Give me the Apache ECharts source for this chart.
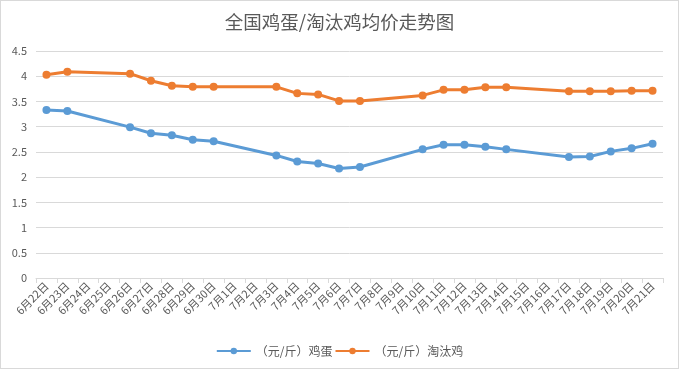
<!DOCTYPE html>
<html><head><meta charset="utf-8">
<script src="https://cdn.jsdelivr.net/npm/echarts@6/dist/echarts.min.js"></script>
<style>html,body{margin:0;padding:0;background:#fff}#c{width:677px;height:367px;border:1px solid #d9d9d9}</style>
</head><body><div id="c"></div>
<script>
var categories = ['6月22日','6月23日','6月24日','6月25日','6月26日','6月27日','6月28日','6月29日','6月30日','7月1日','7月2日','7月3日','7月4日','7月5日','7月6日','7月7日','7月8日','7月9日','7月10日','7月11日','7月12日','7月13日','7月14日','7月15日','7月16日','7月17日','7月18日','7月19日','7月20日','7月21日'];
var eggPrice = [3.33,3.31,null,null,2.99,2.87,2.83,2.74,2.71,null,null,2.43,2.31,2.27,2.17,2.2,null,null,2.55,2.64,2.64,2.6,2.55,null,null,2.4,2.41,2.51,2.57,2.66];
var henPrice = [4.03,4.09,null,null,4.05,3.91,3.81,3.79,3.79,null,null,3.79,3.66,3.64,3.51,3.51,null,null,3.62,3.73,3.73,3.78,3.78,null,null,3.7,3.7,3.7,3.71,3.71];
var seriesNames = ['（元/斤）鸡蛋','（元/斤）淘汰鸡'];
var font = '"Noto Sans CJK SC", "Noto Sans", sans-serif';
var chart = echarts.init(document.getElementById('c'));
chart.setOption({
  animation:false,
  textStyle:{fontFamily:font},
  title:{text:'全国鸡蛋/淘汰鸡均价走势图',left:'center',top:7,textStyle:{fontSize:18.5,fontWeight:'normal',color:'#595959',fontFamily:font}},
  legend:{bottom:6,left:'center',itemWidth:34,itemHeight:8,itemGap:2,textStyle:{fontSize:12,color:'#595959',fontFamily:font},data:seriesNames},
  grid:{left:35,right:15,top:50,bottom:90,containLabel:false},
  xAxis:{type:'category',data:categories,boundaryGap:true,
    axisLine:{lineStyle:{color:'#d9d9d9'}},
    axisTick:{show:true,length:5,lineStyle:{color:'#d9d9d9'}},
    axisLabel:{rotate:45,interval:0,fontSize:11,color:'#595959',margin:6,fontFamily:font}},
  yAxis:{type:'value',min:0,max:4.5,interval:0.5,
    axisLine:{show:false},axisTick:{show:false},
    splitLine:{lineStyle:{color:'#d9d9d9'}},
    axisLabel:{fontSize:11,color:'#595959',margin:9,fontFamily:font}},
  series:[
    {name:seriesNames[0],type:'line',data:eggPrice,connectNulls:true,symbol:'circle',symbolSize:8,
     itemStyle:{color:'#5B9BD5'},lineStyle:{width:3,color:'#5B9BD5'}},
    {name:seriesNames[1],type:'line',data:henPrice,connectNulls:true,symbol:'circle',symbolSize:8,
     itemStyle:{color:'#ED7D31'},lineStyle:{width:3,color:'#ED7D31'}}
  ]
});
</script></body></html>
